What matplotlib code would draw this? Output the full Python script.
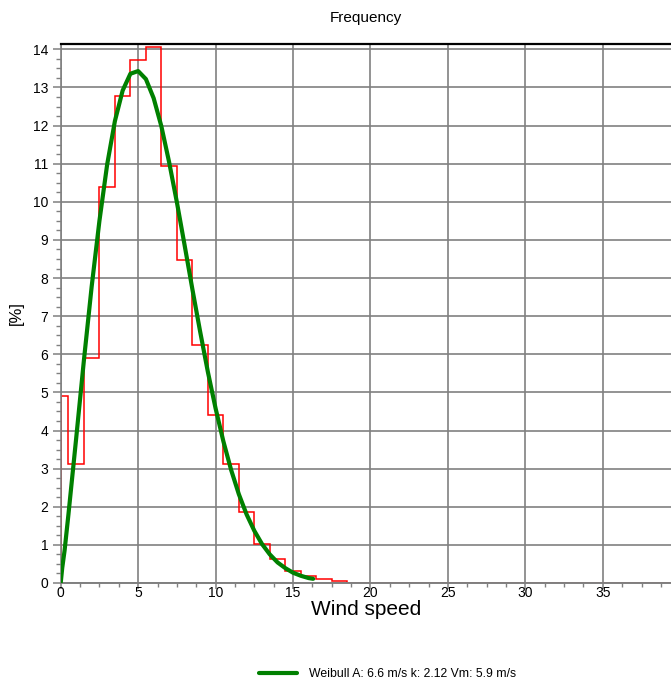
import matplotlib
matplotlib.use("Agg")
import matplotlib.pyplot as plt
from matplotlib.ticker import MultipleLocator
from matplotlib.transforms import blended_transform_factory

plt.rcParams['font.family'] = ['Liberation Sans', 'DejaVu Sans']

# Histogram (frequency per wind-speed bin, %)
bin_edges = [0, 0.5, 1.5, 2.5, 3.5, 4.5, 5.5, 6.5, 7.5, 8.5, 9.5, 10.5, 11.5, 12.5,
             13.5, 14.5, 15.5, 16.5, 17.5, 18.5, 19.5, 20.5, 21.5, 22.5, 23.5, 24.5,
             25.5, 26.5, 27.5, 28.5, 29.5, 30.5, 31.5, 32.5, 33.5, 34.5, 35.5, 36.5,
             37.5, 38.5, 39.5]
freq = [4.9, 3.12, 5.9, 10.4, 12.78, 13.72, 14.07, 10.93, 8.47, 6.25, 4.4, 3.12,
        1.87, 1.02, 0.62, 0.32, 0.18, 0.1, 0.04, 0, 0, 0, 0, 0, 0, 0, 0, 0, 0, 0,
        0, 0, 0, 0, 0, 0, 0, 0, 0, 0]

# Weibull curve
wb_speed = [0, 0.1, 0.25, 0.5, 1.0, 1.5, 2.0, 2.5, 3.0, 3.5, 4.0, 4.5, 5.0, 5.5,
            6.0, 6.5, 7.0, 7.5, 8.0, 8.5, 9.0, 9.5, 10.0, 10.5, 11.0, 11.5, 12.0,
            12.5, 13.0, 13.5, 14.0, 14.5, 15.0, 15.5, 16.0, 16.3]
wb_freq = [0, 0.4, 0.85, 1.8, 3.8, 5.85, 7.78, 9.5, 10.98, 12.12, 12.92, 13.36,
           13.43, 13.22, 12.72, 11.98, 11.04, 9.99, 8.86, 7.71, 6.6, 5.54, 4.58,
           3.72, 2.97, 2.33, 1.8, 1.37, 1.02, 0.75, 0.54, 0.39, 0.27, 0.19, 0.13,
           0.11]

legend_label = "Weibull A: 6.6 m/s k: 2.12 Vm: 5.9 m/s"

W, H = 671, 685
fig = plt.figure(figsize=(W / 100, H / 100), dpi=100)
ax = fig.add_axes([60.7 / W, (H - 583) / H, 1 - 60.7 / W, (583 - 44) / H])

grid_c = '#808080'
ax.set_xlim(0, 39.4)
ax.set_ylim(0, 14.14)
ax.xaxis.set_major_locator(MultipleLocator(5))
ax.xaxis.set_minor_locator(MultipleLocator(1.25))
ax.yaxis.set_major_locator(MultipleLocator(1))
ax.yaxis.set_minor_locator(MultipleLocator(0.25))
ax.grid(True, which='major', color=grid_c, lw=1.2)
ax.set_axisbelow(True)

ax.spines['right'].set_visible(False)
ax.spines['left'].set_color(grid_c)
ax.spines['bottom'].set_color(grid_c)
ax.spines['left'].set_linewidth(1.2)
ax.spines['bottom'].set_linewidth(1.4)
ax.spines['top'].set_color('black')
ax.spines['top'].set_linewidth(1.6)

ax.tick_params(which='major', direction='out', width=1.1, color=grid_c,
               labelsize=10, labelcolor='black')
ax.tick_params(which='minor', direction='out', width=1.0, color=grid_c)
ax.tick_params(axis='y', which='major', length=6, pad=3)
ax.tick_params(axis='y', which='minor', length=3.5)
ax.tick_params(axis='x', which='major', length=4, pad=-1.5)
ax.tick_params(axis='x', which='minor', length=3)

ax.stairs(freq, bin_edges, baseline=0, color='#ff0000', lw=1.1, zorder=2)
line, = ax.plot(wb_speed, wb_freq, color='#008000', lw=3, zorder=3,
                label=legend_label, solid_capstyle='round')

ax.set_xlabel("Wind speed", fontsize=15, labelpad=0)
fig.text(16 / W, 1 - 313 / H, "[%]", rotation=90, ha='center', va='center', fontsize=12)
title_tr = blended_transform_factory(ax.transAxes, fig.transFigure)
ax.text(0.5, 1 - 18 / H, "Frequency", transform=title_tr,
        ha='center', va='center', fontsize=11)

fig.legend(handles=[line], loc='center', bbox_to_anchor=(388 / W, 1 - 674 / H),
           frameon=False, fontsize=8.8, handlelength=3.1, handletextpad=1.0)

fig.savefig("out.png", dpi=100)
